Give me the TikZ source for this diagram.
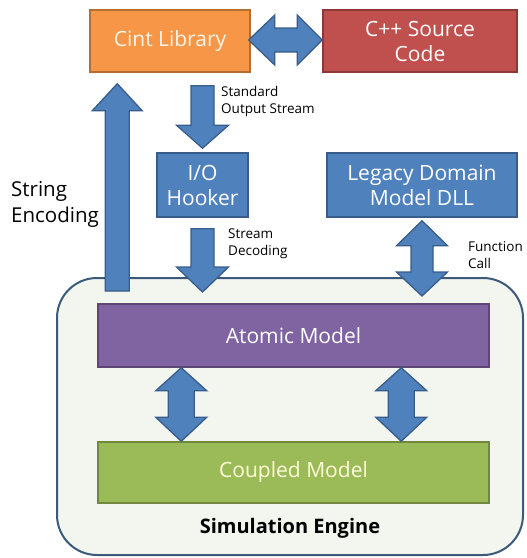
\documentclass[tikz,border=0pt]{standalone}
\usepackage{fontspec}
\setmainfont{Open Sans}
\usetikzlibrary{calc}
\definecolor{blu}{HTML}{4F81BD}
\definecolor{bluD}{HTML}{385D8A}
\definecolor{org}{HTML}{F79646}
\definecolor{orgD}{HTML}{B66D31}
\definecolor{rd}{HTML}{C0504D}
\definecolor{rdD}{HTML}{8C3836}
\definecolor{pur}{HTML}{8064A2}
\definecolor{purD}{HTML}{5C4776}
\definecolor{grn}{HTML}{9BBB59}
\definecolor{grnD}{HTML}{71893F}
\definecolor{engF}{HTML}{F3F5EF}
\definecolor{engD}{HTML}{3B5A7A}
\newcommand{\blkS}[5]{%
  \coordinate (bkB) at ($(#2)!#5!(#1)$);
  \draw[blk] ($(#1)!#3!90:(#2)$) -- ($(bkB)!#3!90:(#2)$) -- ($(bkB)!#4!90:(#2)$) -- (#2)
    -- ($(bkB)!#4!-90:(#2)$) -- ($(bkB)!#3!-90:(#2)$) -- ($(#1)!#3!-90:(#2)$) -- cycle;}
\newcommand{\blkD}[6]{%
  \coordinate (bkC) at ($(#1)!#5!(#2)$);
  \coordinate (bkD) at ($(#2)!#6!(#1)$);
  \draw[blk] (#1) -- ($(bkC)!#4!90:(#2)$) -- ($(bkC)!#3!90:(#2)$) -- ($(bkD)!#3!90:(#2)$)
    -- ($(bkD)!#4!90:(#2)$) -- (#2) -- ($(bkD)!#4!-90:(#2)$) -- ($(bkD)!#3!-90:(#2)$)
    -- ($(bkC)!#3!-90:(#2)$) -- ($(bkC)!#4!-90:(#2)$) -- cycle;}
\begin{document}
\begin{tikzpicture}[x=1pt,y=-1pt,
  box/.style={draw, line width=1.5pt, inner sep=0pt, align=center, text=white,
    font=\fontsize{21}{25}\selectfont},
  blk/.style={draw=bluD, fill=blu, line width=1.3pt, line join=miter},
  lbl/.style={inner sep=0pt, align=left, anchor=north west, font=\fontsize{13.5}{17}\selectfont}]
\useasboundingbox (0,0) rectangle (527,558);
% nodes
\node[box, fill=org, draw=orgD, text=white!92!orange, minimum width=160pt, minimum height=62pt] (cint) at (170,41) {Cint Library};
\node[box, fill=rd, draw=rdD, minimum width=194pt, minimum height=62pt] (cpp) at (420,41) {C++ Source\\Code};
\node[box, fill=blu, draw=bluD, minimum width=91pt, minimum height=64pt] (io) at (202.5,185) {I/O\\Hooker};
\node[box, fill=blu, draw=bluD, minimum width=190pt, minimum height=64pt] (legacy) at (422,185) {Legacy Domain\\Model DLL};
\node[draw=engD, fill=engF, line width=2pt, rounded corners=40pt, minimum width=466pt, minimum height=277pt, inner sep=0pt] (engine) at (290,416.5) {};
\node[box, fill=pur, draw=purD, minimum width=391pt, minimum height=63pt] (atomic) at (293.5,335.5) {Atomic Model};
\node[box, fill=grn, draw=grnD, text=white!85!yellow, minimum width=391pt, minimum height=61pt] (coupled) at (293.5,472.5) {Coupled Model};
\node[inner sep=0pt, font=\fontsize{20}{24}\selectfont\bfseries] (eng) at (290,528) {Simulation Engine};
% labels
\node[lbl] (l1) at (221,86) {Standard\\Output Stream};
\node[lbl] (l2) at (228,229) {Stream\\Decoding};
\node[lbl] (l3) at (468,241) {Function\\Call};
\node[inner sep=0pt, align=left, anchor=north west, font=\fontsize{20.5}{26}\selectfont] (l4) at (11,181) {String\\Encoding};
% connector end points
\coordinate (h1) at ($(cint.east)+(-2,-1)$);
\coordinate (h2) at ($(cpp.west)+(0,-1)$);
\coordinate (d1) at ($(cint.south -| io.center)+(0,13)$);
\coordinate (d2) at ($(io.north)+(0,-4)$);
\coordinate (s1) at ($(io.south)+(0,11)$);
\coordinate (s2) at ($(io.south |- engine.north)+(0,15)$);
\coordinate (u2) at ($(cint.south west)+(28,11)$);
\coordinate (u1) at ($(u2 |- engine.north)+(0,14)$);
\coordinate (f1) at ($(legacy.south)+(0,3)$);
\coordinate (f2) at ($(legacy.south |- engine.north)+(0,19)$);
\coordinate (a1) at ($(atomic.south west)+(84,0)$);
\coordinate (c1) at ($(coupled.north west)+(84,0)$);
\coordinate (a2) at ($(atomic.south west)+(304,0)$);
\coordinate (c2) at ($(coupled.north west)+(304,0)$);
% block arrows
\blkD{h1}{h2}{12pt}{25pt}{26pt}{25pt}
\blkS{d1}{d2}{11.5pt}{26pt}{23pt}
\blkS{s1}{s2}{11.5pt}{26pt}{25pt}
\blkS{u1}{u2}{12pt}{25pt}{27pt}
\blkD{f1}{f2}{11pt}{25.5pt}{25pt}{24pt}
\blkD{a1}{c1}{13pt}{25.5pt}{23pt}{24pt}
\blkD{a2}{c2}{13pt}{25.5pt}{23pt}{24pt}
\end{tikzpicture}
\end{document}
